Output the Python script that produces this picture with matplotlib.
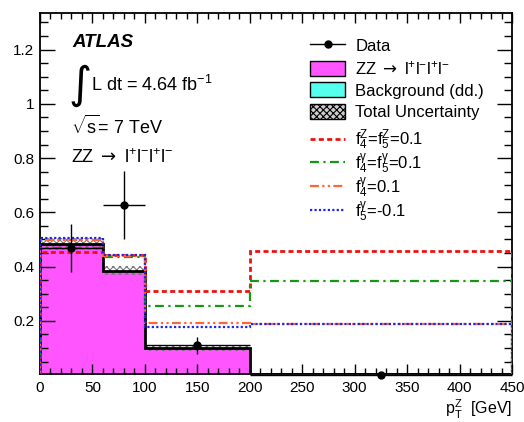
import numpy as np
import matplotlib.pyplot as plt
from matplotlib.lines import Line2D
from matplotlib.patches import Patch

plt.rcParams['font.family'] = ['Liberation Sans', 'DejaVu Sans']
plt.rcParams['mathtext.fontset'] = 'custom'
plt.rcParams['mathtext.rm'] = 'Liberation Sans'
plt.rcParams['mathtext.it'] = 'Liberation Sans'
plt.rcParams['mathtext.sf'] = 'DejaVu Sans'
plt.rcParams['mathtext.default'] = 'regular'
plt.rcParams['hatch.linewidth'] = 0.8

# bin edges in pT(Z) [GeV]
edges = np.array([0, 60, 100, 200, 450])
# expected signal + background (normalised)
zz_sm = np.array([0.480, 0.382, 0.098, 0.002])
bkg = np.array([0.005, 0.003, 0.001, 0.001])
tot_unc = np.array([0.022, 0.016, 0.009, 0.001])
# anomalous coupling predictions
f4z_f5z = np.array([0.453, 0.443, 0.311, 0.459])
f4g_f5g = np.array([0.468, 0.435, 0.256, 0.346])
f4g = np.array([0.498, 0.440, 0.191, 0.190])
f5g = np.array([0.505, 0.443, 0.179, 0.188])
# data
data_x = np.array([30, 80, 150, 325])
data_xerr = np.array([30, 20, 50, 125])
data_y = np.array([0.468, 0.627, 0.110, 0.0])
data_err = np.array([0.088, 0.125, 0.032, 0.0])

fig = plt.figure(figsize=(5.24, 4.22), dpi=100)
ax = fig.add_axes([40 / 524, 48 / 422, 472 / 524, 361 / 422])

widths = np.diff(edges)
total = zz_sm + bkg

ax.bar(edges[:-1], total, width=widths, align='edge', color='#ff55ff', linewidth=0, zorder=1)
ax.bar(edges[:-1], bkg, width=widths, align='edge', color='#55ffee', linewidth=0, zorder=1.5)
ax.bar(edges[:-1], 2 * tot_unc, bottom=total - tot_unc, width=widths, align='edge',
       fill=False, hatch='xxxxx', edgecolor='#777777', linewidth=0, zorder=2)
ax.stairs(total, edges, color='black', linewidth=2, zorder=3)

red_ls = (0, (1.8, 1.2))
green_ls = (0, (4, 2, 1, 2))
orange_ls = (0, (4, 1.5, 1, 1.5, 1, 1.5))
blue_ls = (0, (1, 1))
ax.stairs(f4z_f5z, edges, color='#ee1111', linestyle=red_ls, linewidth=2, zorder=4)
ax.stairs(f4g_f5g, edges, color='#119911', linestyle=green_ls, linewidth=1.6, zorder=4)
ax.stairs(f4g, edges, color='#ff6633', linestyle=orange_ls, linewidth=1.6, zorder=4)
ax.stairs(f5g, edges, color='#2222ee', linestyle=blue_ls, linewidth=1.6, zorder=4)

ax.errorbar(data_x, data_y, xerr=data_xerr, yerr=data_err, fmt='o', color='black',
            markersize=5, elinewidth=1, capsize=0, zorder=6, clip_on=False)

ax.set_xlim(0, 450)
ax.set_ylim(0.004, 1.335)
ax.set_xticks(np.arange(0, 451, 50))
ax.set_xticks(np.arange(0, 451, 10), minor=True)
ax.set_yticks([0.2, 0.4, 0.6, 0.8, 1.0, 1.2])
ax.set_yticklabels(['0.2', '0.4', '0.6', '0.8', '1', '1.2'])
ax.set_yticks(np.arange(0.05, 1.33, 0.05), minor=True)
ax.tick_params(which='both', direction='in', top=True, right=True, labelsize=11, width=1)
ax.tick_params(axis='x', which='major', length=7, pad=5)
ax.tick_params(axis='x', which='minor', length=4)
ax.tick_params(axis='y', which='major', length=11, pad=4)
ax.tick_params(axis='y', which='minor', length=6)
for s in ax.spines.values():
    s.set_linewidth(1.3)

ax.set_xlabel(r'$p_{T}^{Z}$  [GeV]', fontsize=11.5, loc='right', labelpad=2)

zz_label = r'$ZZ\ \mathsf{\rightarrow}\ l^{+}l^{-}l^{+}l^{-}$'

ax.text(0.068, 0.905, 'ATLAS', transform=ax.transAxes, fontsize=13.5,
        fontweight='bold', fontstyle='italic')
ax.text(0.060, 0.80, '\u222b', transform=ax.transAxes, fontsize=32, family='DejaVu Sans',
        va='center')
ax.text(0.108, 0.80, r'L dt = 4.64 fb$^{-1}$', transform=ax.transAxes, fontsize=13, va='center')
ax.text(0.065, 0.685, r'$\sqrt{s}$= 7 TeV', transform=ax.transAxes, fontsize=13, va='center')
ax.text(0.065, 0.60, zz_label, transform=ax.transAxes, fontsize=13, va='center')

handles1 = [
    Line2D([0], [0], color='black', marker='o', markersize=5, linewidth=1),
    Patch(facecolor='#ff55ff', edgecolor='black', linewidth=1),
    Patch(facecolor='#55ffee', edgecolor='black', linewidth=1),
    Patch(facecolor='#cccccc', edgecolor='black', hatch='xxxxx', linewidth=1),
]
labels1 = ['Data', zz_label, 'Background (dd.)', 'Total Uncertainty']
handles2 = [
    Line2D([0], [0], color='#ee1111', linestyle=red_ls, linewidth=2),
    Line2D([0], [0], color='#119911', linestyle=green_ls, linewidth=1.6),
    Line2D([0], [0], color='#ff6633', linestyle=orange_ls, linewidth=1.6),
    Line2D([0], [0], color='#2222ee', linestyle=blue_ls, linewidth=1.6),
]
labels2 = [
    r'$f_4^Z$=$f_5^Z$=0.1',
    r'$f_4^{\gamma}$=$f_5^{\gamma}$=0.1',
    r'$f_4^{\gamma}$=0.1',
    r'$f_5^{\gamma}$=-0.1',
]
leg_kw = dict(loc='upper left', frameon=False, fontsize=12, handlelength=2.1,
              handleheight=1.0, handletextpad=0.6, borderpad=0)
leg1 = ax.legend(handles1, labels1, bbox_to_anchor=(0.555, 0.955), labelspacing=0.32, **leg_kw)
ax.add_artist(leg1)
ax.legend(handles2, labels2, bbox_to_anchor=(0.555, 0.705), labelspacing=-0.02, **leg_kw)

fig.savefig('out.png', dpi=100)
